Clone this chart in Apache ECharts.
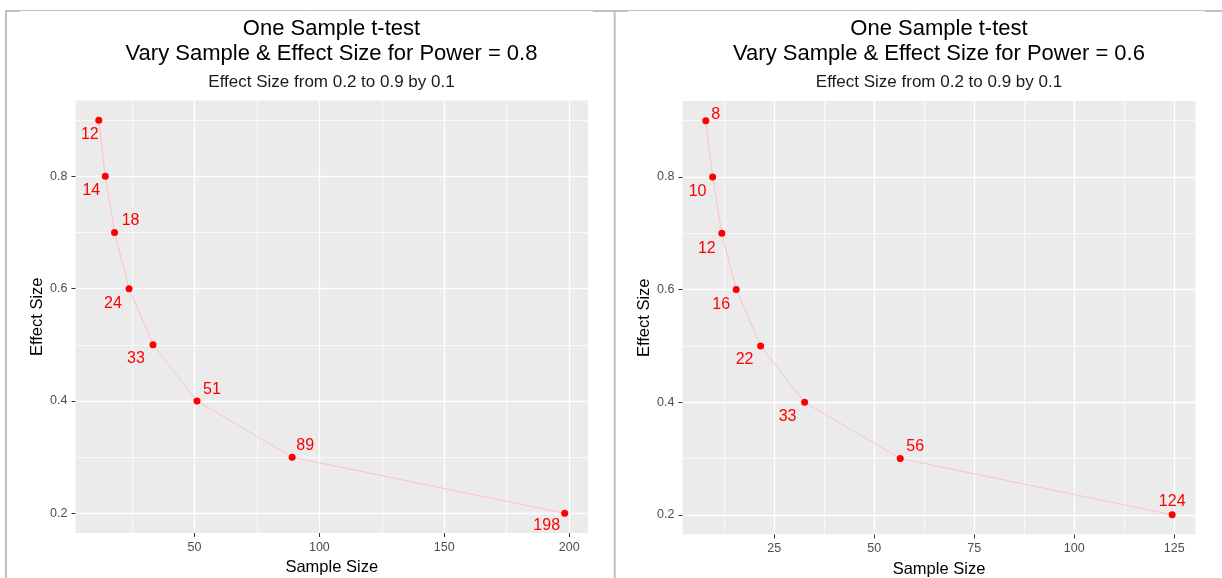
<!DOCTYPE html>
<html>
<head>
<meta charset="utf-8">
<script src="https://cdn.jsdelivr.net/npm/echarts@6/dist/echarts.min.js"></script>
<style>
html,body{margin:0;padding:0;background:#fff;}
#chart{width:1222px;height:578px;}
</style>
</head>
<body>
<div id="chart"></div>
<script>
// ---- Data ----
const effectSizes = [0.9, 0.8, 0.7, 0.6, 0.5, 0.4, 0.3, 0.2];
// Left panel: power = 0.8
const sampleSizeP08 = [11.7, 14.3, 18.0, 23.8, 33.4, 51.0, 89.1, 198.2];
const labelsP08 = ['12', '14', '18', '24', '33', '51', '89', '198'];
// Right panel: power = 0.6
const sampleSizeP06 = [7.9, 9.6, 11.9, 15.5, 21.6, 32.6, 56.5, 124.5];
const labelsP06 = ['8', '10', '12', '16', '22', '33', '56', '124'];

const xTicksL = [50, 100, 150, 200];
const xMinorL = [25, 75, 125, 175];
const xTicksR = [25, 50, 75, 100, 125];
const xMinorR = [12.5, 37.5, 62.5, 87.5, 112.5];
const yTicks = [0.2, 0.4, 0.6, 0.8];
const yMinor = [0.3, 0.5, 0.7, 0.9];

const titleL = 'One Sample t-test\nVary Sample & Effect Size for Power = 0.8';
const titleR = 'One Sample t-test\nVary Sample & Effect Size for Power = 0.6';
const subtitle = 'Effect Size from 0.2 to 0.9 by 0.1';

// label placement (styling, pixels)
const labelOffsetL = [[-9,14],[-14,14],[16,-12],[-16,15],[-17,14],[15,-11],[13,-12],[-18,12]];
const labelOffsetR = [[10,-6],[-15,15],[-15,15],[-15,15],[-16,14],[-17,14],[15,-12],[0,-13]];

const FONT = '"Liberation Sans", Arial, sans-serif';

function expand(vals, f) {
  const mn = Math.min(...vals), mx = Math.max(...vals);
  const r = mx - mn;
  return [mn - f * r, mx + f * r];
}

const grids = [
  {left: 75.5, top: 100.5, width: 512.5, height: 432.5},
  {left: 682.5, top: 101, width: 513, height: 433.5}
].map(g => Object.assign({show: true, backgroundColor: '#EBEBEB', borderWidth: 0, containLabel: false, outerBoundsMode: 'none'}, g));

function xAxisFor(idx, xs, ticks) {
  const [mn, mx] = expand(xs, 0.05);
  return {
    type: 'value', gridIndex: idx, min: mn, max: mx,
    name: 'Sample Size', nameLocation: 'middle', nameGap: 26,
    nameTextStyle: {fontFamily: FONT, fontSize: 16.5, color: '#000'},
    axisLine: {show: false},
    axisTick: {show: true, length: 4, lineStyle: {color: '#333', width: 1}, customValues: ticks},
    axisLabel: {show: true, customValues: ticks, margin: 8, fontFamily: FONT, fontSize: 12.5, color: '#4D4D4D',
      formatter: v => String(Math.round(v))},
    splitLine: {show: false}, minorSplitLine: {show: false}
  };
}
function yAxisFor(idx) {
  const [mn, mx] = expand(effectSizes, 0.05);
  return {
    type: 'value', gridIndex: idx, min: mn, max: mx,
    name: 'Effect Size', nameLocation: 'middle', nameGap: 27, nameRotate: 90,
    nameTextStyle: {fontFamily: FONT, fontSize: 16.5, color: '#000'},
    axisLine: {show: false},
    axisTick: {show: true, length: 4, lineStyle: {color: '#333', width: 1}, customValues: yTicks},
    axisLabel: {show: true, customValues: yTicks, margin: 8, fontFamily: FONT, fontSize: 12.5, color: '#4D4D4D',
      formatter: v => v.toFixed(1)},
    splitLine: {show: false}
  };
}

function gridSeries(idx, xMaj, xMin) {
  const d = [];
  xMin.forEach(v => d.push({xAxis: v, lineStyle: {width: 0.7}}));
  yMinor.forEach(v => d.push({yAxis: v, lineStyle: {width: 0.7}}));
  xMaj.forEach(v => d.push({xAxis: v, lineStyle: {width: 1.3}}));
  yTicks.forEach(v => d.push({yAxis: v, lineStyle: {width: 1.3}}));
  return {
    type: 'line', xAxisIndex: idx, yAxisIndex: idx, data: [], z: 0, silent: true,
    markLine: {
      z: 0, silent: true, animation: false, symbol: ['none', 'none'],
      label: {show: false}, emphasis: {disabled: true},
      lineStyle: {color: '#FFFFFF', type: 'solid', width: 1},
      data: d
    }
  };
}

function dataSeries(idx, xs, labels, offsets) {
  return {
    type: 'line', xAxisIndex: idx, yAxisIndex: idx, z: 6,
    symbol: 'circle', symbolSize: 7, showSymbol: true,
    itemStyle: {color: '#FF0000'},
    lineStyle: {color: '#FFC0CB', width: 1},
    emphasis: {disabled: true},
    animation: false,
    data: xs.map((x, i) => ({
      value: [x, effectSizes[i]],
      label: {
        show: true, position: 'inside', offset: offsets[i],
        formatter: labels[i], color: '#FF0000', fontFamily: FONT, fontSize: 16,
        align: 'center', verticalAlign: 'middle'
      }
    }))
  };
}

function titleText(cx, text) {
  return [
    {type: 'text', x: cx, y: 17, z: 10, style: {text: text, fill: '#000', font: '22px ' + FONT, textAlign: 'center', textVerticalAlign: 'top', lineHeight: 24.5}},
    {type: 'text', x: cx, y: 82.5, z: 10, style: {text: subtitle, fill: '#1A1A1A', font: '17px ' + FONT, textAlign: 'center', textVerticalAlign: 'middle'}}
  ];
}

const frame = '#C0C0C0';
const graphics = [
  {type: 'line', shape: {x1: 5, y1: 10.5, x2: 1222, y2: 10.5}, style: {stroke: frame, lineWidth: 1}},
  {type: 'rect', shape: {x: 5, y: 10, width: 15, height: 2}, style: {fill: frame}},
  {type: 'rect', shape: {x: 593, y: 10, width: 35, height: 2}, style: {fill: frame}},
  {type: 'rect', shape: {x: 1205, y: 10, width: 17, height: 2}, style: {fill: frame}},
  {type: 'rect', shape: {x: 5, y: 10, width: 2, height: 568}, style: {fill: frame}},
  {type: 'rect', shape: {x: 613.7, y: 11, width: 2, height: 567}, style: {fill: frame}}
].concat(titleText(331.5, titleL), titleText(939, titleR));

const chart = echarts.init(document.getElementById('chart'), null, {renderer: 'canvas'});
chart.setOption({
  backgroundColor: '#FFFFFF',
  animation: false,
  grid: grids,
  xAxis: [xAxisFor(0, sampleSizeP08, xTicksL), xAxisFor(1, sampleSizeP06, xTicksR)],
  yAxis: [yAxisFor(0), yAxisFor(1)],
  series: [
    gridSeries(0, xTicksL, xMinorL),
    gridSeries(1, xTicksR, xMinorR),
    dataSeries(0, sampleSizeP08, labelsP08, labelOffsetL),
    dataSeries(1, sampleSizeP06, labelsP06, labelOffsetR)
  ],
  graphic: graphics
});
</script>
</body>
</html>
